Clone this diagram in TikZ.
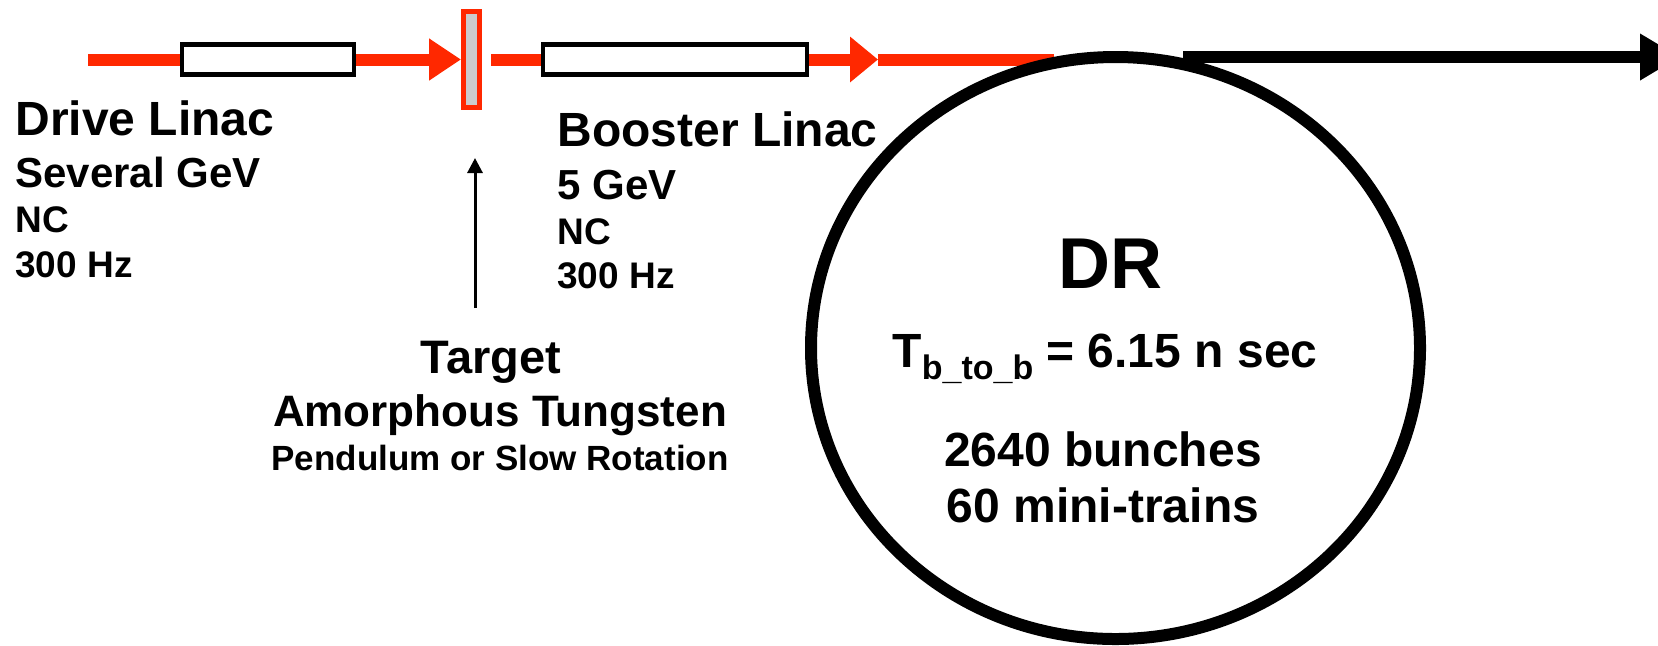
\documentclass[tikz,border=0pt]{standalone}
\usepackage{fontspec}
\setmainfont{Liberation Sans}
\usepackage{xcolor}
\usetikzlibrary{arrows.meta,positioning,shapes.geometric}
\definecolor{beamred}{RGB}{255,40,0}

\begin{document}
\begin{tikzpicture}[x=0.5pt,y=-0.5pt,>=latex,
  beam/.style={draw=beamred,line width=6pt},
  linac/.style={draw=black,fill=white,line width=2.25pt,minimum width=86pt,minimum height=15pt,inner sep=0pt},
  lbl/.style={anchor=base west,inner sep=0pt,font=\bfseries\fontsize{#1}{#1}\selectfont},
  ctr/.style={anchor=base,inner sep=0pt,font=\bfseries\fontsize{#1}{#1}\selectfont}]
  \useasboundingbox (0,0) rectangle (1658,645);
  % beam line
  \coordinate (start) at (88,59.5);
  \node[linac] (drive) at (268,59.5) {};
  \node[draw=beamred,fill=gray!40,line width=2.5pt,minimum width=8pt,minimum height=48pt,inner sep=0pt] (target) at (471.5,59.5) {};
  \node[linac,minimum width=132pt] (booster) at (675,59.5) {};
  \coordinate (mid) at (878,59.5);
  \coordinate (beamend) at (1054,59.5);
  \draw[beam] (start) -- (drive.west);
  \draw[beam,-{Triangle[length=16pt,width=20pt]}] (drive.east) -- (target.west);
  \draw[beam] ([xshift=4.5pt]target.east) -- (booster.west);
  \draw[beam,-{Triangle[length=14pt,width=22pt]}] (booster.east) -- (mid);
  \draw[beam] (mid) -- (beamend);
  % damping ring and extraction
  \node[ellipse,draw,line width=6pt,minimum width=304.5pt,minimum height=291pt,inner sep=0pt] (ring) at (1115.5,348) {};
  \coordinate (extstart) at (1183,57);
  \coordinate (extend) at (1680,57);
  \draw[line width=6pt,-{Triangle[length=20pt,width=22pt]}] (extstart) -- (extend);
  % target pointer
  \coordinate (ptrfoot) at (475,308);
  \coordinate (ptrhead) at (475,158);
  \draw[line width=1.5pt,-{Triangle[length=7.5pt,width=7.5pt]}] (ptrfoot) -- (ptrhead);
  % labels
  \node[lbl=24] (drivename) at (15,135) {Drive Linac};
  \node[lbl=21] (driveenergy) at (15,187) {Several GeV};
  \node[lbl=18.5] (drivetype) at (15,232) {NC};
  \node[lbl=18.5] (driverate) at (15,277) {300 Hz};
  \node[lbl=24] (boostername) at (557,146) {Booster Linac};
  \node[lbl=21] (boosterenergy) at (557,199) {5 GeV};
  \node[lbl=18.5] (boostertype) at (557,244) {NC};
  \node[lbl=18.5] (boosterrate) at (557,288) {300 Hz};
  \node[ctr=23.5] (targetname) at (491,373) {Target};
  \node[ctr=22] (targetmat) at (500,426) {Amorphous Tungsten};
  \node[ctr=17.5] (targetmove) at (500,470) {Pendulum or Slow Rotation};
  \node[ctr=36] (ringname) at (1110,288) {DR};
  \node[ctr=24] (ringspacing) at (1105,367) {T\raisebox{-6pt}{\fontsize{17}{17}\selectfont b\_to\_b} = 6.15 n sec};
  \node[ctr=24] (ringbunches) at (1103,466) {2640 bunches};
  \node[ctr=24] (ringtrains) at (1103,522) {60 mini-trains};
\end{tikzpicture}
\end{document}
